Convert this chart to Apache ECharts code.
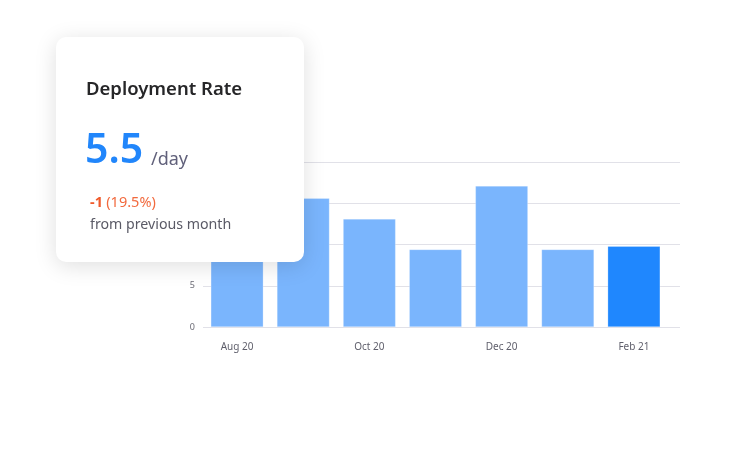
<!DOCTYPE html>
<html>
<head>
<meta charset="utf-8">
<script src="https://cdn.jsdelivr.net/npm/echarts@6/dist/echarts.min.js"></script>
<style>
  html, body { margin: 0; padding: 0; background: #fff; }
  #main { width: 755px; height: 452px; }
</style>
</head>
<body>
<div id="main"></div>
<script>
   // 图表数据
   var months = ['Aug 20', 'Sep 20', 'Oct 20', 'Nov 20', 'Dec 20', 'Jan 21', 'Feb 21'];
   var rates = [12, 15.6, 13.1, 9.4, 17.1, 9.4, 9.8];
   var yTicks = [0, 5, 10, 15, 20];

   var cardTitle = 'Deployment Rate';
   var cardValue = '5.5';
   var cardUnit = '/day';
   var cardDelta = '-1';
   var cardPct = '(19.5%)';
   var cardNote = 'from previous month';

   var lightBlue = '#7ab5fd';
   var darkBlue = '#1f87fe';
   var font = '"Noto Sans", "Open Sans", sans-serif';

   var myChart = echarts.init(document.getElementById('main'));

   var barData = rates.map(function (v, i) {
       return {
           value: v,
           itemStyle: { color: i === rates.length - 1 ? darkBlue : lightBlue }
       };
   });

   // 卡片文字：y 为文字顶部
   function cardText(x, y, text, fill, fontStr) {
       return {
           type: 'text', x: x, y: y, z: 101,
           style: { text: text, fill: fill, font: fontStr, verticalAlign: 'top' }
       };
   }

   myChart.setOption({
       animation: false,
       backgroundColor: '#fff',
       textStyle: { fontFamily: font },
       grid: [
           // 网格线用
           { left: 203, right: 75, top: 162, bottom: 125 },
           // 柱子用
           { left: 204, right: 88, top: 162, bottom: 125 }
       ],
       xAxis: [
           {
               gridIndex: 0,
               type: 'category',
               data: months,
               show: false
           },
           {
               gridIndex: 1,
               type: 'category',
               data: months,
               axisLine: { show: false },
               axisTick: { show: false },
               axisLabel: {
                   interval: 1,
                   color: '#5f5f6b',
                   fontSize: 10,
                   margin: 15
               }
           }
       ],
       yAxis: [
           {
               gridIndex: 0,
               type: 'value',
               min: yTicks[0],
               max: yTicks[yTicks.length - 1],
               interval: yTicks[1] - yTicks[0],
               axisLine: { show: false },
               axisTick: { show: false },
               axisLabel: { color: '#6b6b75', fontSize: 9, margin: 8 },
               splitLine: { lineStyle: { color: '#e1e1e8', width: 1 } }
           },
           {
               gridIndex: 1,
               type: 'value',
               min: yTicks[0],
               max: yTicks[yTicks.length - 1],
               interval: yTicks[1] - yTicks[0],
               show: false,
               splitLine: { show: false }
           }
       ],
       series: [{
           type: 'bar',
           xAxisIndex: 1,
           yAxisIndex: 1,
           data: barData,
           barCategoryGap: '20.6%',
           itemStyle: { borderColor: 'rgba(255,255,255,0.5)', borderWidth: 0.5 }
       }],
       graphic: [
           {
               type: 'rect',
               shape: { x: 56, y: 37, width: 248, height: 225, r: 10 },
               style: {
                   fill: '#fff',
                   shadowBlur: 22,
                   shadowColor: 'rgba(0,0,0,0.13)',
                   shadowOffsetY: 4
               },
               z: 100
           },
           cardText(86, 80, cardTitle, '#262628', '600 18.5px ' + font),
           cardText(85, 131, cardValue, '#2186fb', '600 41px ' + font),
           cardText(151, 151, cardUnit, '#60607a', '18px ' + font),
           {
               type: 'text',
               x: 90, y: 195, z: 101,
               style: {
                   rich: {
                       d: { fill: '#f05a2b', font: 'bold 14.5px ' + font },
                       p: { fill: '#f26a3e', font: '14.5px ' + font }
                   },
                   text: '{d|' + cardDelta + '} {p|' + cardPct + '}',
                   verticalAlign: 'top'
               }
           },
           cardText(90, 218, cardNote, '#5a5a66', '14.2px ' + font)
       ]
   });
</script>
</body>
</html>
